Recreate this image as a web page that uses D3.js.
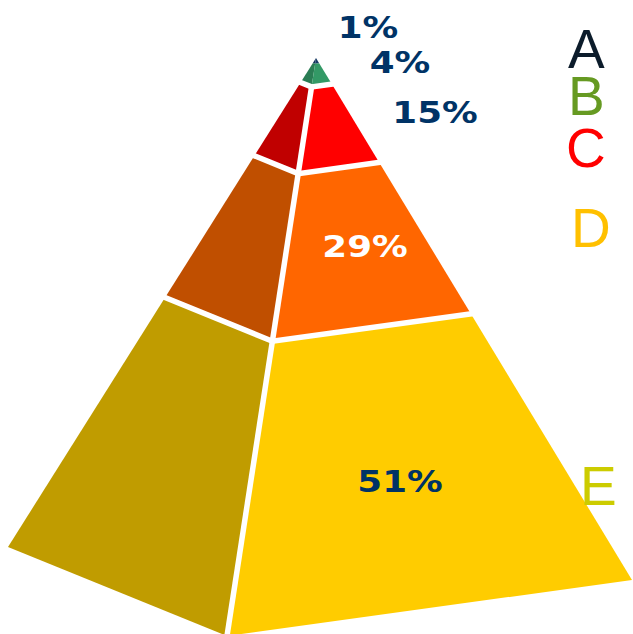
<!DOCTYPE html>
<html>
<head>
<meta charset="utf-8">
<script src="https://cdn.jsdelivr.net/npm/d3@7/dist/d3.min.js"></script>
<style>
  html, body { margin: 0; padding: 0; background: #fff; }
  svg { display: block; }
</style>
</head>
<body>
<svg id="chart" width="633" height="634"></svg>
<script>
// Shares of each tier, top of the pyramid first
const categories = ["A", "B", "C", "D", "E"];
const values = [1, 4, 15, 29, 51];
const valueLabels = ["1%", "4%", "15%", "29%", "51%"];

// Face shading per tier: lit right face and shaded left face
const rightColors = ["#163a66", "#339966", "#ff0000", "#ff6600", "#ffcc00"];
const leftColors  = ["#10305a", "#2a7d54", "#c00000", "#c04f00", "#c09c00"];
const legendColors = ["#0c1c2b", "#669a22", "#ff0000", "#ffc000", "#cccc00"];
const labelColors = ["#003366", "#003366", "#003366", "#ffffff", "#003366"];

const svg = d3.select("#chart");

// Projected corners of the square pyramid: apex, left, front and right base corners
const apex = [316, 58];
const baseLeft = [8, 547];
const baseFront = [227, 636];
const baseRight = [632, 580];

// Point at fraction t of the way from the apex down an edge
const edge = corner => {
  const ix = d3.interpolateNumber(apex[0], corner[0]);
  const iy = d3.interpolateNumber(apex[1], corner[1]);
  return t => [ix(t), iy(t)];
};
const edgeL = edge(baseLeft);
const edgeF = edge(baseFront);
const edgeR = edge(baseRight);

// Cumulative share maps linearly to the fraction of the pyramid height
const total = d3.sum(values);
const tScale = d3.scaleLinear().domain([0, total]).range([0, 1]);
const cum = d3.cumsum(values);

const line = d3.line();
const tiers = categories.map((c, i) => ({
  cat: c,
  t0: tScale(cum[i] - values[i]),
  t1: tScale(cum[i]),
  i
}));

const g = svg.append("g");

// Left (shaded) faces
g.selectAll("path.left")
  .data(tiers)
  .join("path")
  .attr("class", "left")
  .attr("d", d => line([edgeL(d.t0), edgeF(d.t0), edgeF(d.t1), edgeL(d.t1)]) + "Z")
  .attr("fill", d => leftColors[d.i]);

// Right (lit) faces
g.selectAll("path.right")
  .data(tiers)
  .join("path")
  .attr("class", "right")
  .attr("d", d => line([edgeF(d.t0), edgeR(d.t0), edgeR(d.t1), edgeF(d.t1)]) + "Z")
  .attr("fill", d => rightColors[d.i]);

// White gaps between tiers and along the front edge
const gapW = 5.5;
const bounds = cum.slice(1, cum.length - 1).map(tScale);
g.selectAll("path.gap")
  .data(bounds)
  .join("path")
  .attr("class", "gap")
  .attr("d", t => line([edgeL(t), edgeF(t), edgeR(t)]))
  .attr("fill", "none")
  .attr("stroke", "#fff")
  .attr("stroke-width", gapW)
  .attr("stroke-linecap", "square")
  .attr("stroke-linejoin", "miter");

g.append("path")
  .attr("d", line([edgeF(bounds[0]), edgeF(1.02)]))
  .attr("fill", "none")
  .attr("stroke", "#fff")
  .attr("stroke-width", gapW);

// Value labels
const labelPos = [[368, 38], [400, 73], [435, 123], [365, 257], [400, 492]];
svg.selectAll("text.val")
  .data(valueLabels)
  .join("text")
  .attr("class", "val")
  .attr("transform", (d, i) => `translate(${labelPos[i][0]},${labelPos[i][1]}) scale(1.15,1)`)
  .attr("text-anchor", "middle")
  .attr("font-family", "'DejaVu Sans', Verdana, sans-serif")
  .attr("font-weight", "bold")
  .attr("font-size", 31)
  .attr("fill", (d, i) => labelColors[i])
  .text(d => d);

// Category letters at the right
const legendPos = [[568, 68], [568, 115], [566, 167], [571, 247], [580, 505]];
svg.selectAll("text.cat")
  .data(categories)
  .join("text")
  .attr("class", "cat")
  .attr("x", (d, i) => legendPos[i][0])
  .attr("y", (d, i) => legendPos[i][1])
  .attr("font-family", "'Liberation Sans', Arial, sans-serif")
  .attr("font-size", 55)
  .attr("fill", (d, i) => legendColors[i])
  .text(d => d);
</script>
</body>
</html>
